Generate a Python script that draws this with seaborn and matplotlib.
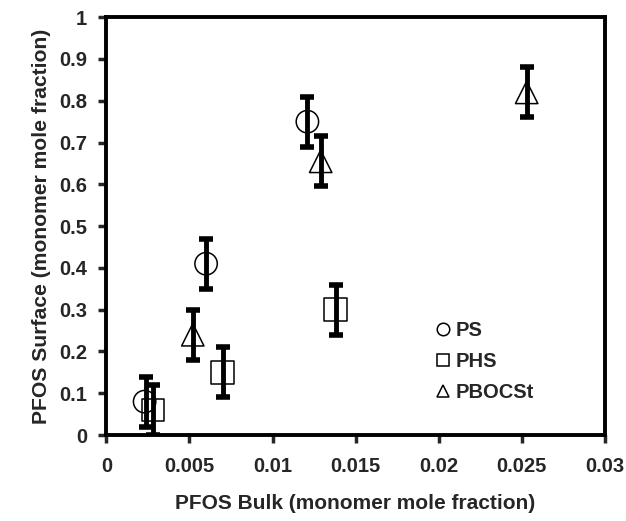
import pandas as pd
import seaborn as sns
import matplotlib.pyplot as plt
from matplotlib.lines import Line2D

# values
series = ['PS', 'PS', 'PS', 'PHS', 'PHS', 'PHS', 'PBOCSt', 'PBOCSt', 'PBOCSt']
bulk = [0.0023, 0.0060, 0.0121, 0.0028, 0.0070, 0.0138, 0.0052, 0.0129, 0.0253]
surface = [0.08, 0.41, 0.75, 0.06, 0.15, 0.30, 0.24, 0.655, 0.82]
err = [0.06, 0.06, 0.06, 0.06, 0.06, 0.06, 0.06, 0.06, 0.06]
err_x = [0.0024, 0.0060, 0.0121, 0.0028, 0.0070, 0.0138, 0.0052, 0.0129, 0.0253]

data = pd.DataFrame({'bulk': bulk, 'surface': surface, 'err': err,
                     'err_x': err_x, 'series': series})

sns.set_style('white')
plt.rcParams['font.family'] = ['Liberation Sans', 'DejaVu Sans']
plt.rcParams['font.weight'] = 'bold'

fig, ax = plt.subplots(figsize=(6.26, 5.21), dpi=100)

markers = {'PS': 'o', 'PHS': 's', 'PBOCSt': '^'}
sns.scatterplot(data=data, x='bulk', y='surface', style='series', markers=markers,
                s=260, facecolors='none', edgecolor='black', linewidth=1.1,
                color='black', legend=False, ax=ax, zorder=2)

# thick error bars on top of the open markers
ax.errorbar(data['err_x'], data['surface'], yerr=data['err'], fmt='none',
            ecolor='black', elinewidth=3.5, capsize=5, capthick=4, zorder=3)

ax.set_xlim(0, 0.03)
ax.set_ylim(0, 1)
ax.set_xticks([0, 0.005, 0.01, 0.015, 0.02, 0.025, 0.03])
ax.set_xticklabels(['0', '0.005', '0.01', '0.015', '0.02', '0.025', '0.03'])
ax.set_yticks([i / 10 for i in range(11)])
ax.set_yticklabels(['0', '0.1', '0.2', '0.3', '0.4', '0.5', '0.6', '0.7', '0.8', '0.9', '1'])
ax.tick_params(axis='both', direction='out', length=6, width=2.5, labelsize=14.5,
               bottom=True, left=True)
ax.tick_params(axis='x', pad=10)
ax.tick_params(axis='y', pad=8)
for lab in ax.get_xticklabels() + ax.get_yticklabels():
    lab.set_fontweight('bold')
for sp in ax.spines.values():
    sp.set_linewidth(2.8)
    sp.set_color('black')

ax.set_xlabel('PFOS Bulk (monomer mole fraction)', fontsize=15, fontweight='bold', labelpad=13)
ax.set_ylabel('PFOS Surface (monomer mole fraction)', fontsize=15.2, fontweight='bold', labelpad=6)

handles = [Line2D([], [], linestyle='none', marker=markers[k], markersize=9,
                  markerfacecolor='none', markeredgecolor='black', markeredgewidth=1.1)
           for k in markers]
ax.legend(handles, list(markers), loc='lower left', bbox_to_anchor=(0.625, 0.035),
          frameon=False, handlelength=0.7, handletextpad=0.3,
          labelspacing=0.6, prop={'weight': 'bold', 'size': 14.5})

plt.subplots_adjust(left=0.17, right=0.966, top=0.967, bottom=0.165)
plt.savefig('out.png', dpi=100)
